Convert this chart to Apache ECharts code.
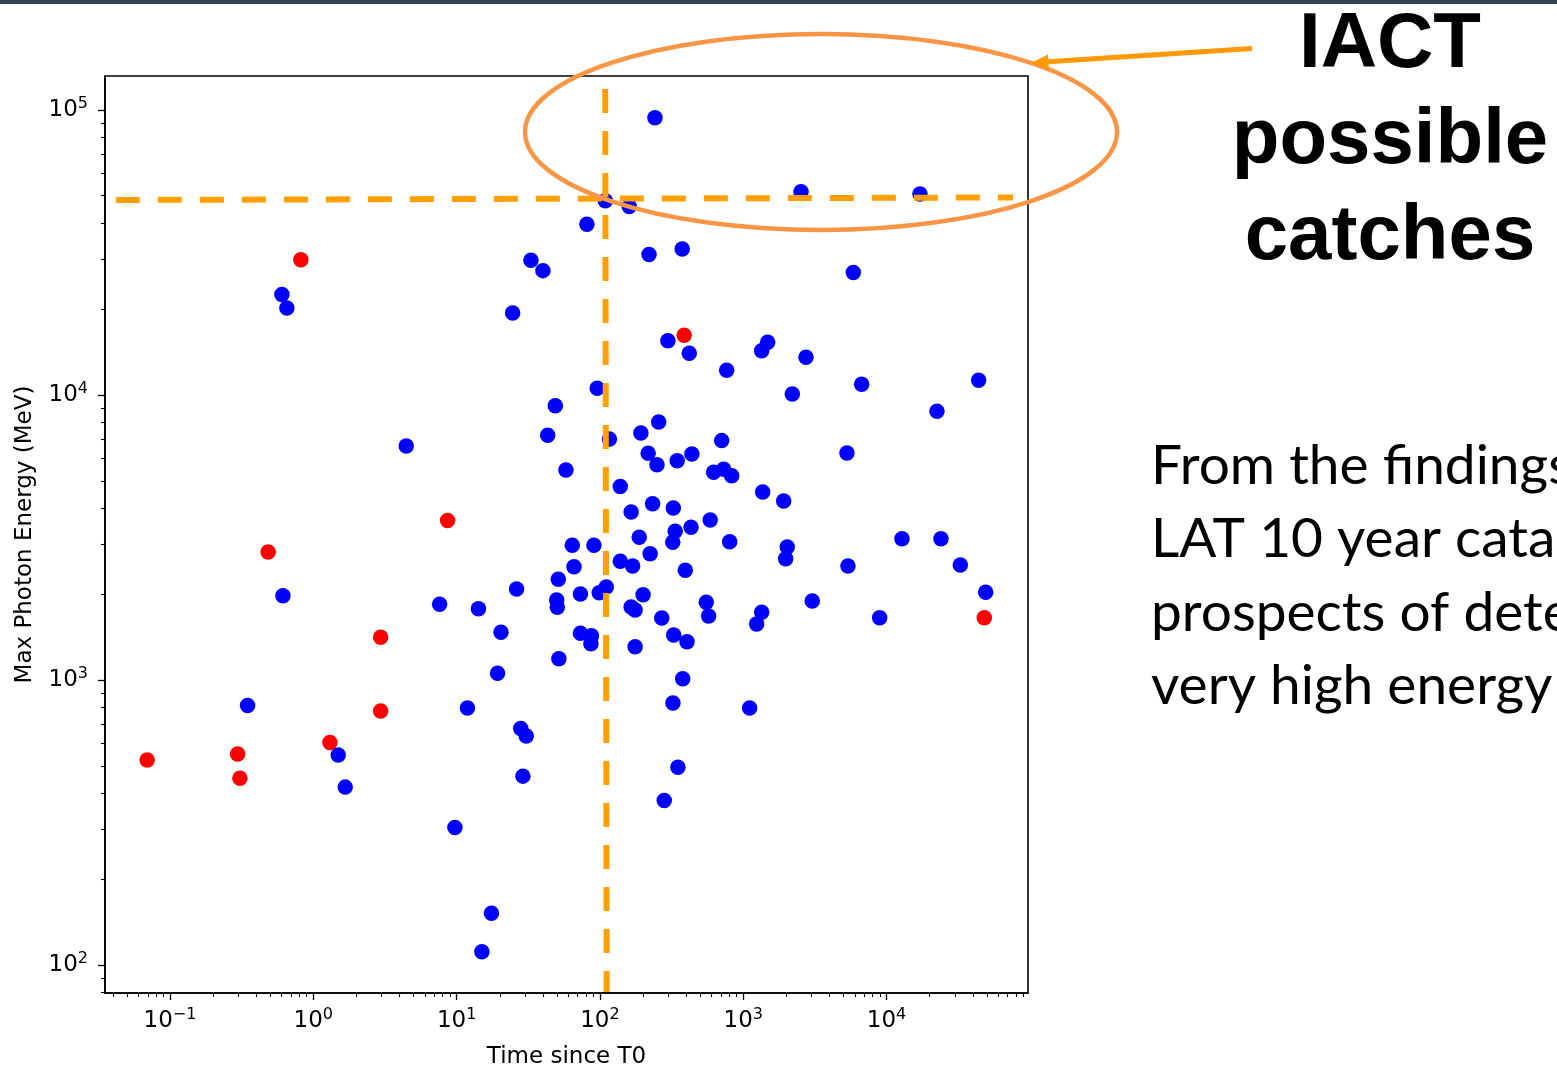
<!DOCTYPE html>
<html>
<head>
<meta charset="utf-8">
<script src="https://cdn.jsdelivr.net/npm/echarts@6/dist/echarts.min.js"></script>
<style>
html,body{margin:0;padding:0;background:#ffffff;}
#chart{width:1557px;height:1066px;}
</style>
</head>
<body>
<div id="chart"></div>
<script>
// ---- Data (time since T0 in s, max photon energy in MeV) ----
const BLUE_TIME = [0.604, 0.654, 24.6, 33.0, 40.0, 81.1, 109, 95.7, 48.8, 242,
  2530, 17100, 160, 220, 375, 5860, 298, 420, 766, 1344,
  1480, 2740, 6700, 43900, 2200, 43.2, 116.5, 4.45, 57.9, 138.6,
  64.1, 90.8, 138.6, 65.9, 51.2, 26.2, 0.614, 49.9, 50.4, 73.1,
  98.9, 110.7, 7.61, 14.2, 20.4, 73.1, 87.2, 86.5, 51.7, 19.3,
  0.348, 11.9, 28.0, 30.6, 1.492, 29.0, 1.67, 9.73, 17.5, 15.0,
  22470, 257, 193, 707, 5292, 217, 250, 346, 438, 621,
  730, 830, 1366, 1914, 233, 325, 165, 588, 432, 335,
  188, 322, 804, 12810, 23960, 2028, 1976, 224, 169, 5378,
  32690, 394, 49150, 200, 3030, 165, 176, 552, 573, 1344,
  1240, 270, 8950, 327, 405, 176, 378, 323, 1108, 350, 281];
const BLUE_ENERGY = [22500, 20200, 19400, 29700, 27300, 39700, 48000, 10560, 9170, 93800,
  51600, 50700, 45800, 31100, 32500, 26900, 15500, 14000, 12200, 14300,
  15300, 13560, 10900, 11260, 10080, 7220, 7000, 6625, 5456, 4775,
  2969, 2972, 2610, 2498, 2256, 2086, 1976, 1909, 1799, 2004,
  2025, 2120, 1843, 1779, 1470, 1459, 1430, 1341, 1188, 1056,
  814, 797, 676, 636, 546, 460, 421, 304, 152, 111.4,
  8767, 8042, 7357, 6915, 6260, 6244, 5692, 5880, 6209, 5356,
  5487, 5210, 4566, 4247, 4155, 4013, 3886, 3642, 3434, 3325,
  3168, 3042, 3057, 3132, 3132, 2929, 2665, 2775, 2512, 2512,
  2532, 2426, 2032, 1992, 1894, 1804, 1760, 1874, 1677, 1728,
  1572, 1650, 1654, 1439, 1363, 1309, 1011, 830, 798, 494, 378];
const RED_TIME = [0.819, 387, 8.65, 0.484, 2.95, 2.95, 1.306, 0.2965, 0.0693, 0.3076, 48080];
const RED_ENERGY = [29800, 16200, 3630, 2810, 1413, 778, 604, 550, 524, 452, 1654];

// axis extents and ticks
const X_RANGE = [0.0352, 97000];
const Y_RANGE = [79.8, 131500];
const X_MAJOR = [0.1, 1, 10, 100, 1000, 10000];
const Y_MAJOR = [100, 1000, 10000, 100000];

// hand-drawn orange cut lines (start / end points in data units)
const CUT_H_TIME = [0.0419, 76200];
const CUT_H_ENERGY = [48300, 49300];
const CUT_V_TIME = [108.9, 111.4];
const CUT_V_ENERGY = [118500, 80.4];

// slide texts
const AXIS_X_NAME = 'Time since T0';
const AXIS_Y_NAME = 'Max Photon Energy (MeV)';
const TITLE_LINES = ['IACT', 'possible', 'catches'];
const BODY_LINES = ['From the findings', 'LAT 10 year catalog', 'prospects of detecting', 'very high energy'];

// ---- build ----
const L = Math.log10;
function minorTicks(range) {
  const out = [];
  for (let d = -3; d <= 6; d++) {
    for (let k = 2; k <= 9; k++) {
      const v = k * Math.pow(10, d);
      if (v >= range[0] && v <= range[1]) out.push(L(v));
    }
  }
  return out;
}
const xMaj = X_MAJOR.map(L), yMaj = Y_MAJOR.map(L);
const xMin = minorTicks(X_RANGE), yMin = minorTicks(Y_RANGE);

function powLabel(v) {
  const e = Math.round(v);
  const s = e < 0 ? '\u2212' + Math.abs(e) : String(e);
  return '{b|10}{s|' + s + '}';
}
const FONT = 'DejaVu Sans';
const rich = {
  b: {fontFamily: FONT, fontSize: 23, color: '#000', lineHeight: 28},
  s: {fontFamily: FONT, fontSize: 16, color: '#000', lineHeight: 13, verticalAlign: 'top'}
};
const axisLineStyle = {color: '#000', width: 1.6};
const labelBase = {show: true, fontFamily: FONT, fontSize: 23, color: '#000', rich: rich, formatter: powLabel};

const chart = echarts.init(document.getElementById('chart'), null, {renderer: 'canvas'});
chart.setOption({
  animation: false,
  backgroundColor: '#ffffff',
  grid: {left: 105, top: 76, width: 923, height: 917, show: true, borderColor: '#000', borderWidth: 1.6,
    containLabel: false, outerBoundsMode: 'none'},
  xAxis: [
    {
      type: 'value', position: 'bottom', min: L(X_RANGE[0]), max: L(X_RANGE[1]),
      splitLine: {show: false},
      axisLine: {show: true, onZero: false, lineStyle: axisLineStyle},
      axisTick: {show: true, inside: false, length: 7, lineStyle: {color: '#000', width: 1.3}, customValues: xMaj},
      axisLabel: Object.assign({}, labelBase, {customValues: xMaj, margin: 14}),
      name: AXIS_X_NAME, nameLocation: 'middle', nameGap: 53,
      nameTextStyle: {fontFamily: FONT, fontSize: 23, color: '#000'}
    },
    {
      type: 'value', position: 'bottom', min: L(X_RANGE[0]), max: L(X_RANGE[1]),
      splitLine: {show: false},
      axisLine: {show: false, onZero: false},
      axisTick: {show: true, inside: false, length: 4, lineStyle: {color: '#000', width: 1.1}, customValues: xMin},
      axisLabel: {show: false}
    }
  ],
  yAxis: [
    {
      type: 'value', position: 'left', min: L(Y_RANGE[0]), max: L(Y_RANGE[1]),
      splitLine: {show: false},
      axisLine: {show: true, onZero: false, lineStyle: axisLineStyle},
      axisTick: {show: true, inside: false, length: 7, lineStyle: {color: '#000', width: 1.3}, customValues: yMaj},
      axisLabel: Object.assign({}, labelBase, {customValues: yMaj, margin: 17}),
      name: AXIS_Y_NAME, nameLocation: 'middle', nameGap: 68,
      nameTextStyle: {fontFamily: FONT, fontSize: 23, color: '#000'}
    },
    {
      type: 'value', position: 'left', min: L(Y_RANGE[0]), max: L(Y_RANGE[1]),
      splitLine: {show: false},
      axisLine: {show: false, onZero: false},
      axisTick: {show: true, inside: false, length: 4, lineStyle: {color: '#000', width: 1.1}, customValues: yMin},
      axisLabel: {show: false}
    }
  ],
  series: [
    {
      type: 'scatter', xAxisIndex: 0, yAxisIndex: 0, z: 3,
      data: BLUE_TIME.map((t, i) => [L(t), L(BLUE_ENERGY[i])]),
      symbol: 'circle', symbolSize: 15.5, itemStyle: {color: '#0000ff', opacity: 1},
      emphasis: {disabled: true}
    },
    {
      type: 'scatter', xAxisIndex: 0, yAxisIndex: 0, z: 4,
      data: RED_TIME.map((t, i) => [L(t), L(RED_ENERGY[i])]),
      symbol: 'circle', symbolSize: 15.5, itemStyle: {color: '#ff0000', opacity: 1},
      emphasis: {disabled: true}
    },
    {
      type: 'line', xAxisIndex: 0, yAxisIndex: 0, z: 6, silent: true, clip: false,
      data: CUT_H_TIME.map((t, i) => [L(t), L(CUT_H_ENERGY[i])]),
      symbol: 'none', lineStyle: {color: '#ffa000', width: 6, type: [24, 18], cap: 'butt'}
    },
    {
      type: 'line', xAxisIndex: 0, yAxisIndex: 0, z: 6, silent: true, clip: false,
      data: CUT_V_TIME.map((t, i) => [L(t), L(CUT_V_ENERGY[i])]),
      symbol: 'none', lineStyle: {color: '#ffa000', width: 6, type: [24, 18], cap: 'butt'}
    }
  ],
  graphic: [
    {type: 'rect', z: 100, shape: {x: 0, y: 0, width: 1557, height: 4}, style: {fill: '#344256'}},
    {type: 'ellipse', z: 100, shape: {cx: 821, cy: 132, rx: 296, ry: 98}, style: {fill: 'none', stroke: '#f79646', lineWidth: 4.5}},
    {type: 'line', z: 101, shape: {x1: 1252, y1: 48.5, x2: 1044, y2: 62}, style: {stroke: '#ff9900', lineWidth: 5}},
    {type: 'polygon', z: 101, shape: {points: [[1031, 63], [1049, 69.5], [1048, 54.5]]}, style: {fill: '#ff9900'}},
  ].concat(TITLE_LINES.map((t, i) => ({
    type: 'text', z: 102,
    style: {text: t, x: 1390, y: 45 + i * 96, font: 'bold 78px "Liberation Sans", Arial, sans-serif', fill: '#000',
      textAlign: 'center', textVerticalAlign: 'middle', align: 'center', verticalAlign: 'middle'}
  }))).concat(BODY_LINES.map((t, i) => ({
    type: 'text', z: 102,
    style: {text: t, x: 1151, y: 466 + i * 73.5, font: '55px Lato, sans-serif', fill: '#000',
      textAlign: 'left', textVerticalAlign: 'middle', align: 'left', verticalAlign: 'middle'}
  })))
});
</script>
</body>
</html>
